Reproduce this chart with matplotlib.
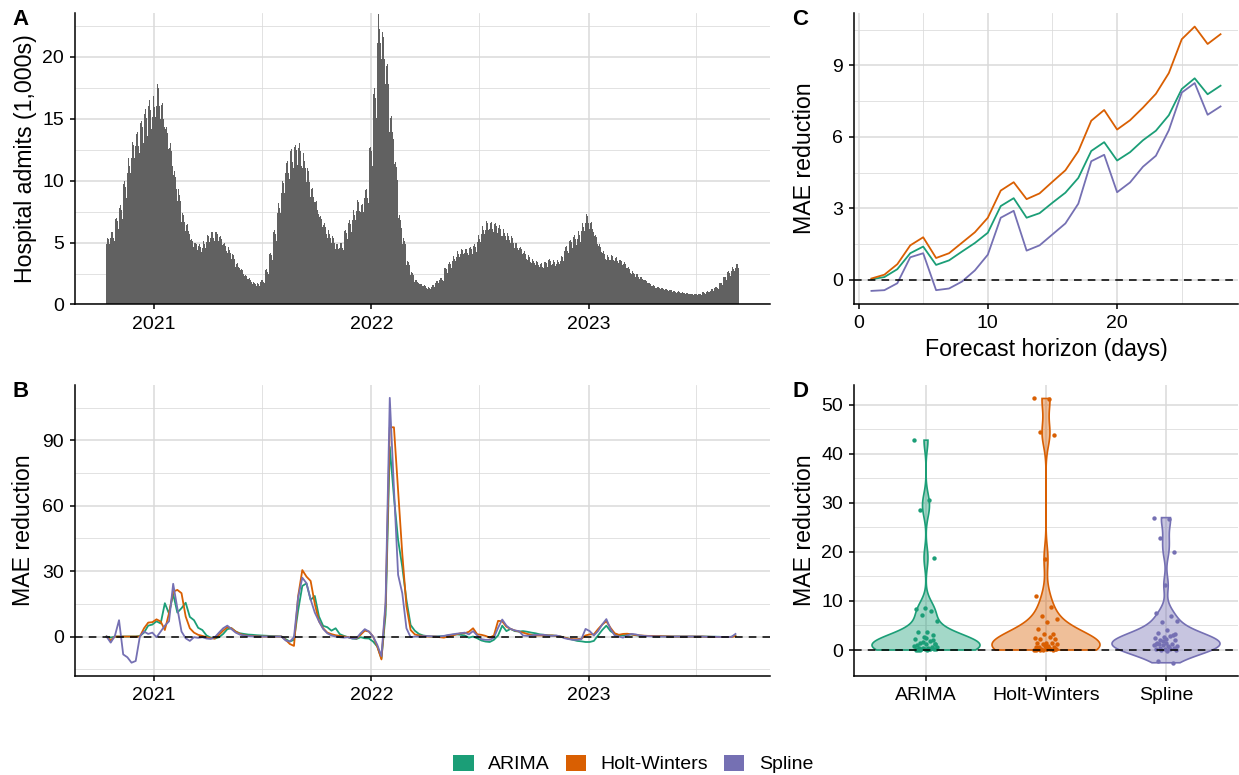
import numpy as np
import pandas as pd
import matplotlib
matplotlib.use('Agg')
import matplotlib.pyplot as plt
import matplotlib.dates as mdates
from matplotlib.patches import Patch
from matplotlib.ticker import MultipleLocator

plt.rcParams['font.family'] = ['Liberation Sans', 'DejaVu Sans']

# Models and their colours (Dark2)
models = ['ARIMA', 'Holt-Winters', 'Spline']
colors = ['#1B9E77', '#D95F02', '#7570B3']

# Daily hospital admits (1,000s): weekly peak level and day-of-week profile
admits_start = '2020-10-13'
admits_end = '2023-09-10'
admits_weekly = [
    5.4, 6.0, 7.1, 8.0, 10.0, 11.8, 13.1, 14.2, 15.1, 15.8,
    16.5, 16.8, 17.8, 16.6, 14.6, 13.0, 10.8, 9.3, 7.4, 6.6,
    5.4, 5.1, 4.9, 5.1, 5.6, 6.0, 6.0, 5.6, 5.0, 4.6,
    4.1, 3.4, 2.9, 2.4, 2.1, 1.8, 1.7, 2.0, 2.9, 4.2,
    6.0, 8.2, 10.0, 11.8, 12.8, 13.1, 13.0, 12.2, 11.0, 9.6,
    8.5, 7.3, 6.6, 6.0, 5.5, 5.0, 5.1, 6.1, 6.8, 7.6,
    8.4, 8.3, 9.5, 13.0, 17.5, 23.4, 22.0, 19.8, 15.5, 11.7,
    7.2, 5.4, 3.5, 2.6, 2.0, 1.7, 1.55, 1.4, 1.6, 1.9,
    2.2, 3.0, 3.4, 3.9, 4.3, 4.5, 4.6, 4.7, 4.9, 5.6,
    6.3, 6.7, 6.8, 6.7, 6.4, 6.1, 5.8, 5.5, 5.1, 4.7,
    4.3, 4.0, 3.7, 3.5, 3.4, 3.5, 3.7, 3.6, 3.6, 3.9,
    4.8, 5.3, 5.6, 5.9, 6.6, 7.3, 6.8, 5.7, 4.9, 4.3,
    4.0, 4.0, 3.9, 3.7, 3.4, 3.0, 2.7, 2.5, 2.3, 2.0,
    1.75, 1.55, 1.45, 1.35, 1.3, 1.2, 1.1, 1.05, 1.0, 0.95,
    0.9, 0.85, 0.9, 1.0, 1.1, 1.25, 1.45, 1.8, 2.3, 2.7, 3.0, 3.3,
]
weekday_profile = [0.90, 0.97, 1.0, 0.98, 0.95, 0.90, 0.86]

# Weekly MAE reduction by model
mae_weekly = {
    'ARIMA': [
        0, -0.5, 0, 0, 0, 0, 0, 0, 0.3, 1.8,
        5.0, 5.5, 7.0, 6.0, 15.3, 10.5, 19.5, 11.0, 13.0, 15.5,
        9.0, 7.5, 4.0, 3.0, 0.5, -0.5, -0.9, -0.3, 1.2, 3.4,
        3.8, 2.3, 1.5, 1.2, 0.9, 0.8, 0.6, 0.5, 0.4, 0.3,
        0.2, 0.1, 0, -1.2, -2.3, -1.5, 12.0, 23.2, 24.4, 16.8,
        18.6, 9.2, 4.9, 4.3, 2.7, 3.8, 1.1, 0.3, -0.3, -0.9,
        -1.1, -0.3, -0.8, -0.9, -2.3, -4.6, -10.0, 10.0, 87.0, 64.0,
        44.3, 32.0, 16.8, 5.3, 2.7, 1.2, 0.5, 0.2, 0, 0,
        0.1, 0.2, 0.5, 0.8, 1.0, 0.8, 0.5, -0.5, 0, -0.8,
        -1.8, -2.3, -2.5, -1.5, 0.5, 5.0, 2.5, 3.5, 2.5, 2.3,
        2.5, 2.2, 1.8, 1.5, 1.0, 0.8, 0.5, 0.5, 0.3, 0,
        -0.5, -1.0, -1.5, -2.0, -2.2, -2.5, -2.5, -2.0, 0.5, 3.0,
        5.0, 2.5, 1.2, 0.6, 0.5, 0.8, 1.0, 0.6, 0.4, 0.3,
        0.2, 0.2, 0.1, 0.1, 0.1, 0, 0, 0, 0, 0,
        0, 0, 0, 0, 0, -0.1, -0.1, -0.1, -0.2, -0.2, -0.1, 0.3,
    ],
    'Holt-Winters': [
        0, -1.8, 0, 0, 0, 0, 0, 0, 0, 3.8,
        6.4, 6.6, 7.9, 6.9, 3.0, 10.7, 20.6, 21.4, 19.9, 9.2,
        3.8, 1.8, 0.8, 0.3, -0.3, -0.8, -0.9, 0.8, 2.7, 4.3,
        3.8, 2.3, 1.2, 0.6, 0.3, 0.2, 0.1, 0, 0, 0,
        0, 0, 0, -1.5, -3.4, -4.3, 18.5, 30.5, 27.5, 25.5,
        15.0, 7.0, 3.8, 1.8, 1.1, 0.6, 0.3, 0, -0.3, -0.6,
        -0.9, 0.8, 2.7, 2.3, 0, -4.6, -10.5, 14.0, 96.0, 96.0,
        67.0, 38.0, 14.0, 3.0, 1.0, 0.5, 0.3, 0, 0, 0,
        -0.3, -0.5, 0, 0.5, 1.0, 1.5, 1.5, 2.2, 3.8, 1.0,
        0.8, 0.3, -0.5, 0.5, 7.2, 7.0, 4.5, 3.5, 2.8, 2.3,
        1.8, 1.2, 0.8, 0.5, 0.5, 0.5, 0.5, 0.5, 0.3, 0,
        -0.5, -1.0, -1.2, -1.2, -1.0, 0.5, 1.0, 1.0, 3.4, 5.5,
        7.0, 4.0, 1.5, 0.8, 1.2, 1.3, 1.0, 0.7, 0.5, 0.4,
        0.3, 0.3, 0.2, 0.2, 0.1, 0.1, 0, 0, 0, 0,
        0, 0, 0, 0, -0.1, -0.1, -0.2, -0.2, -0.2, -0.2, -0.2, 0.2,
    ],
    'Spline': [
        0, -2.8, 0.3, 7.5, -8.2, -9.5, -12.0, -11.2, 0, 2.3,
        1.2, 1.8, -0.3, 2.3, 5.0, 7.0, 24.2, 13.0, 2.3, -0.8,
        -2.0, -0.3, -0.6, -0.3, -0.9, -1.1, -0.3, 1.8, 3.8, 5.0,
        3.4, 1.8, 0.9, 0.5, 0.2, 0.1, 0, 0, 0, 0,
        0, 0, 0, -1.8, -2.3, -0.3, 18.0, 27.0, 24.5, 17.0,
        11.0, 7.0, 3.5, 1.5, 0.5, 0, -0.3, -0.5, -0.3, -0.9,
        -0.8, 1.5, 3.4, 2.3, 0, -3.8, -9.0, 16.0, 109.5, 68.0,
        28.3, 19.9, 3.8, -0.3, 0, 0, 0.2, 0.2, 0.1, 0,
        0, 0.3, 0.7, 1.0, 1.3, 1.5, 1.8, 1.0, 2.5, 0.5,
        -1.2, -1.5, -1.5, -0.5, 4.0, 7.8, 5.0, 3.5, 2.8, 2.5,
        0.5, 0.3, 0.5, 0.8, 0.8, 0.8, 0.5, 0.3, 0.5, 0,
        -0.8, -1.2, -1.5, -1.5, -1.2, 3.5, 2.5, 0.5, 2.5, 5.5,
        8.0, 3.5, 0.5, 0, -0.5, 0.5, 1.2, 1.0, 0.5, 0.3,
        0.2, 0.1, 0.1, 0, 0, 0, 0, 0, 0, 0,
        0, 0, 0, 0, -0.1, -0.1, -0.1, -0.2, -0.2, -0.2, -0.2, 1.2,
    ],
}

# MAE reduction by forecast horizon
horizon = list(range(1, 29))
mae_horizon = {
    'ARIMA': [0.03, 0.12, 0.45, 1.12, 1.40, 0.63, 0.82, 1.19, 1.55, 1.98,
              3.10, 3.43, 2.61, 2.80, 3.24, 3.66, 4.28, 5.41, 5.78, 5.01,
              5.36, 5.86, 6.26, 6.91, 8.01, 8.46, 7.79, 8.15],
    'Holt-Winters': [0.06, 0.22, 0.66, 1.45, 1.79, 0.92, 1.12, 1.56, 2.00, 2.61,
                     3.75, 4.10, 3.39, 3.63, 4.12, 4.60, 5.40, 6.68, 7.13, 6.31,
                     6.70, 7.23, 7.81, 8.68, 10.10, 10.63, 9.90, 10.31],
    'Spline': [-0.46, -0.43, -0.14, 0.95, 1.12, -0.43, -0.36, -0.07, 0.40, 1.06,
               2.61, 2.90, 1.23, 1.45, 1.91, 2.37, 3.20, 4.98, 5.25, 3.68,
               4.09, 4.75, 5.21, 6.28, 7.86, 8.26, 6.93, 7.28],
}

# MAE reduction by location
mae_location = {
    'ARIMA': [42.8, 30.5, 28.5, 18.8, 8.5, 8.3, 7.9, 7.1, 5.9, 3.7, 3.7, 3.0,
              2.6, 2.2, 1.8, 1.5, 1.3, 1.15, 1.0, 0.7, 0.5, 0.6, 0.5, 0.4,
              0.27, 0.14, 0.14, 0.2, 0.14, 0.2, 0.0, 0.0, 2.0, 1.6, 0.9, 0.3,
              0.1, 1.2, 2.4, 0.05],
    'Holt-Winters': [51.3, 51.2, 44.5, 43.8, 18.6, 11.0, 8.8, 7.0, 6.4, 5.8,
                     4.2, 3.2, 3.2, 2.5, 2.7, 2.2, 2.2, 1.5, 1.5, 1.5, 1.15,
                     1.15, 0.8, 0.7, 0.6, 0.8, 0.7, 0.27, 0.27, 0.14, 0.14,
                     0.14, 0, 0, 0, 0.4, 0.1, 0.2, 0.3, 0.05],
    'Spline': [27.0, 26.7, 22.8, 20.0, 13.3, 7.6, 6.9, 5.7, 6.0, 4.1, 3.5,
               3.0, 2.6, 2.5, 2.8, 2.0, 2.0, 1.5, 1.5, 1.15, 0.95, 0.8, 0.8,
               1.15, 0.5, 0.27, 0.27, 0.14, 0, 0, -0.2, -2.2, -2.6, 1.8, 1.0,
               0.6, 0.4, 3.3, 2.3, 1.2],
}

TICK = 14
TITLE = 16.7
GRID = '#dadada'


def style(ax):
    for s in ['top', 'right']:
        ax.spines[s].set_visible(False)
    for s in ['left', 'bottom']:
        ax.spines[s].set_linewidth(1.1)
    ax.tick_params(which='major', length=3.8, width=1.1, labelsize=TICK, pad=4.2, colors='black')
    ax.tick_params(which='minor', length=0)
    ax.grid(which='major', color=GRID, lw=1.1)
    ax.grid(which='minor', color=GRID, lw=0.55)
    ax.set_axisbelow(True)


def zero_line(ax):
    ax.axhline(0, color='black', lw=1.1, ls=(0, (5, 4)), zorder=5)


def date_axis(ax):
    ax.xaxis.set_major_locator(mdates.YearLocator())
    ax.xaxis.set_minor_locator(mdates.MonthLocator(bymonth=7))
    ax.xaxis.set_major_formatter(mdates.DateFormatter('%Y'))
    ax.set_xlim(pd.Timestamp('2020-08-21'), pd.Timestamp('2023-11-02'))


fig = plt.figure(figsize=(12.39, 7.75), dpi=100)
W, H = 1239, 775


def add_axes(left, right, top, bottom):
    return fig.add_axes([left / W, 1 - bottom / H, (right - left) / W, (bottom - top) / H])


axA = add_axes(75, 770, 12.5, 304.5)
axB = add_axes(75, 770, 385, 676)
axC = add_axes(854, 1238, 13, 304)
axD = add_axes(854, 1238, 385, 676)

# A: daily admits
days = pd.date_range(admits_start, admits_end, freq='D')
i = np.arange(len(days))
daily = np.array(admits_weekly)[i // 7] * np.array(weekday_profile)[i % 7]
axA.bar(days, daily, width=1.0, color='#616161', linewidth=0)
date_axis(axA)
axA.set_ylim(0, 23.55)
axA.yaxis.set_major_locator(MultipleLocator(5))
axA.yaxis.set_minor_locator(MultipleLocator(2.5))
style(axA)
axA.set_ylabel('Hospital admits (1,000s)', fontsize=TITLE)
axA.yaxis.set_label_coords(-0.054, 0.5)

# B: weekly MAE reduction over time
weeks = pd.date_range(admits_start, periods=len(mae_weekly['ARIMA']), freq='7D')
for m, c in zip(models, colors):
    axB.plot(weeks, mae_weekly[m], color=c, lw=1.3)
zero_line(axB)
date_axis(axB)
axB.set_ylim(-18.1, 115.4)
axB.yaxis.set_major_locator(MultipleLocator(30))
axB.yaxis.set_minor_locator(MultipleLocator(15))
style(axB)
axB.set_ylabel('MAE reduction', fontsize=TITLE)
axB.yaxis.set_label_coords(-0.057, 0.5)

# C: MAE reduction by horizon
for m, c in zip(models, colors):
    axC.plot(horizon, mae_horizon[m], color=c, lw=1.3)
zero_line(axC)
axC.set_xlim(-0.35, 29.35)
axC.set_ylim(-1.01, 11.2)
axC.xaxis.set_major_locator(MultipleLocator(10))
axC.xaxis.set_minor_locator(MultipleLocator(5))
axC.yaxis.set_major_locator(MultipleLocator(3))
axC.yaxis.set_minor_locator(MultipleLocator(1.5))
style(axC)
axC.set_ylabel('MAE reduction', fontsize=TITLE)
axC.yaxis.set_label_coords(-0.099, 0.5)
axC.set_xlabel('Forecast horizon (days)', fontsize=TITLE)
axC.xaxis.set_label_coords(0.5, -0.118)


# D: violins of MAE reduction by location, with jittered points
def violin(ax, pos, vals, color, adjust=1.9):
    vals = np.asarray(vals, float)
    n = len(vals)
    sd = vals.std(ddof=1)
    q75, q25 = np.percentile(vals, [75, 25])
    bw = adjust * 0.9 * min(sd, (q75 - q25) / 1.34) * n ** -0.2
    grid = np.linspace(vals.min(), vals.max(), 512)
    dens = np.exp(-0.5 * ((grid[:, None] - vals[None, :]) / bw) ** 2).sum(1)
    half = 0.45 * dens / dens.max()
    xs = np.concatenate([pos + half, (pos - half)[::-1]])
    ys = np.concatenate([grid, grid[::-1]])
    ax.fill(xs, ys, facecolor=color, alpha=0.4, edgecolor='none', zorder=2)
    ax.fill(xs, ys, facecolor='none', edgecolor=color, lw=1.2, zorder=3)
    jit = ((np.arange(n) * 0.618034) % 1 - 0.5) * 0.2
    ax.scatter(pos + jit, vals, s=10, color=color, linewidths=0, zorder=4)


for k, (m, c) in enumerate(zip(models, colors)):
    violin(axD, k + 1, mae_location[m], c)
zero_line(axD)
axD.set_xlim(0.4, 3.6)
axD.set_ylim(-5.3, 54.05)
axD.set_xticks([1, 2, 3])
axD.set_xticklabels(models)
axD.yaxis.set_major_locator(MultipleLocator(10))
axD.yaxis.set_minor_locator(MultipleLocator(5))
style(axD)
axD.set_ylabel('MAE reduction', fontsize=TITLE)
axD.yaxis.set_label_coords(-0.099, 0.5)

# panel letters
for lab, x, y in [('A', 12, 9), ('B', 12, 381), ('C', 792, 9), ('D', 792, 381)]:
    fig.text(x / W, 1 - y / H, lab, fontsize=16, fontweight='bold', va='top', ha='left')

# shared legend
handles = [Patch(facecolor=c, edgecolor='none', label=m) for m, c in zip(models, colors)]
fig.legend(handles=handles, loc='center', bbox_to_anchor=(0.511, 0.0142), ncol=3,
           frameon=False, fontsize=TICK, handlelength=1.05, handleheight=0.88,
           handletextpad=0.75, columnspacing=0.8)

plt.savefig('out.png', dpi=100)
